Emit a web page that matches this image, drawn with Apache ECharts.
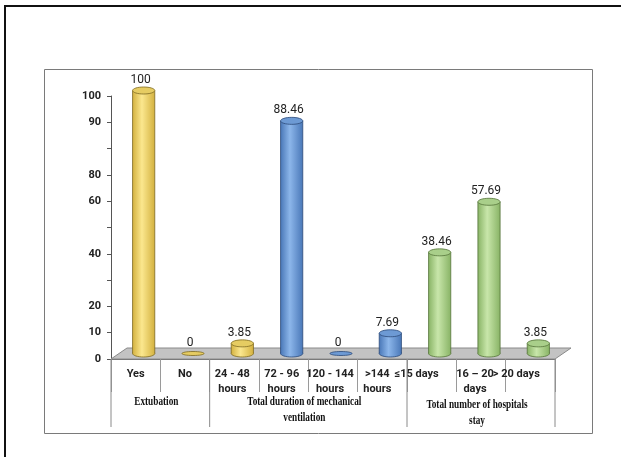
<!DOCTYPE html>
<html>
<head>
<meta charset="utf-8">
<script src="https://cdn.jsdelivr.net/npm/echarts@6/dist/echarts.min.js"></script>
<style>
  html, body { margin: 0; padding: 0; background: #fff; }
  #chart { width: 621px; height: 457px; }
</style>
</head>
<body>
<div id="chart"></div>
<script>
// Outcome categories along the x axis
const categories = ['Yes', 'No', '24 - 48\nhours', '72 - 96\nhours', '120 - 144\nhours',
  '>144\nhours', '≤15 days', '16 – 20\ndays', '> 20 days'];
// Percentage of patients in each category
const percentages = [100, 0, 3.85, 88.46, 0, 7.69, 38.46, 57.69, 3.85];
// Colour family of each cylinder (0 yellow, 1 blue, 2 green)
const barColour = [0, 0, 0, 1, 1, 1, 2, 2, 2];
// Category groups (first and last category index of each)
const groupNames = ['Extubation', 'Total duration of mechanical\nventilation', 'Total number of hospitals\nstay'];
const groupStart = [0, 2, 6];
const groupEnd = [1, 5, 8];
// Y axis tick labels at 0, 10, 20 ... 100
const yTickLabels = ['0', '10', '20', '', '40', '', '60', '80', '', '90', '100'];

// Cylinder palettes: [edge, highlight, top, outline]
const palettes = [
  ['#d4b240', '#fbe78e', '#e6cc62', '#7d6a22'],
  ['#4a78b8', '#8cb6ea', '#6d9ad4', '#2c4a78'],
  ['#89b466', '#c8e6aa', '#a9cf8a', '#55743a']
];
const labelShift = [0, 0, -2, -2, -3, -5, -15, -6, -14];

const SANS = "Roboto, 'Liberation Sans', sans-serif";
const SERIF = "'Liberation Serif', 'DejaVu Serif', serif";
const DEPTH_X = 16, DEPTH_Y = -11;

const rich = {};
categories.forEach((c, i) => {
  rich['s' + i] = {
    fontFamily: SANS, fontWeight: 'bold', fontSize: 11, lineHeight: 15, color: '#222',
    padding: [0, Math.max(0, -labelShift[i] * 2), 0, 0]
  };
});

const chart = echarts.init(document.getElementById('chart'), null, { renderer: 'canvas' });

chart.setOption({
  animation: false,
  backgroundColor: '#fff',
  grid: { left: 111, right: 66, top: 96, bottom: 98, containLabel: false },
  graphic: [
    { type: 'polyline', silent: true, z: 100,
      shape: { points: [[5, 457], [5, 6], [621, 6]] },
      style: { stroke: '#111', lineWidth: 2, fill: null } },
    { type: 'rect', silent: true, z: 100,
      shape: { x: 44.5, y: 69.5, width: 548, height: 364 },
      style: { stroke: '#7a7a7a', lineWidth: 1, fill: null } }
  ],
  xAxis: {
    type: 'category',
    data: categories,
    axisLine: { show: true, lineStyle: { color: '#6a6a6a', width: 1 } },
    axisTick: { show: true, interval: 0, length: 33, lineStyle: { color: '#9a9a9a' } },
    axisLabel: {
      interval: 0, margin: 8,
      formatter: (v, i) => v.split('\n').map(l => '{s' + i + '|' + l + '}').join('\n'),
      rich: rich
    },
    splitLine: { show: false }
  },
  yAxis: {
    type: 'value', min: 0, max: 100, interval: 10,
    axisLine: { show: true, lineStyle: { color: '#555', width: 1 } },
    axisTick: { show: true, length: 4, lineStyle: { color: '#555' } },
    axisLabel: {
      margin: 10, fontFamily: SANS, fontWeight: 'bold', fontSize: 11, color: '#222',
      formatter: v => yTickLabels[Math.round(v / 10)]
    },
    splitLine: { show: false }
  },
  series: [
    // Grey floor plane under the cylinders
    {
      type: 'custom', z: 1, silent: true,
      data: [[0]],
      renderItem: (params, api) => {
        const a = api.coord([0, 0]);
        const b = api.coord([categories.length - 1, 0]);
        const bw = api.size([1, 0])[0];
        const L = a[0] - bw / 2, R = b[0] + bw / 2, y = a[1];
        return {
          type: 'polygon',
          shape: { points: [[L, y], [R, y], [R + DEPTH_X, y + DEPTH_Y], [L + DEPTH_X, y + DEPTH_Y]] },
          style: { fill: '#c3c3c3', stroke: '#8a8a8a', lineWidth: 1 }
        };
      }
    },
    // Group separator lines and group titles under the axis
    {
      type: 'custom', z: 3, silent: true,
      data: groupNames.map((n, g) => [groupStart[g], groupEnd[g], g]),
      renderItem: (params, api) => {
        const s = api.value(0), e = api.value(1), g = api.value(2);
        const bw = api.size([1, 0])[0];
        const p0 = api.coord([s, 0]);
        const p1 = api.coord([e, 0]);
        const xl = p0[0] - bw / 2, xr = p1[0] + bw / 2, y = p0[1];
        const children = [
          { type: 'line', shape: { x1: xl, y1: y, x2: xl, y2: y + 68 },
            style: { stroke: '#8a8a8a', lineWidth: 1 } }
        ];
        if (g === groupNames.length - 1) {
          children.push({ type: 'line', shape: { x1: xr, y1: y, x2: xr, y2: y + 68 },
            style: { stroke: '#8a8a8a', lineWidth: 1 } });
        }
        children.push({
          type: 'text', x: (xl + xr) / 2 - 4, y: y + 35 + (g === 2 ? 3 : 0), scaleX: 0.74,
          style: {
            x: 0, y: 0, text: groupNames[g], align: 'center', verticalAlign: 'top',
            font: 'bold 12.5px ' + SERIF, lineHeight: 16, fill: '#111'
          }
        });
        return { type: 'group', children: children };
      }
    },
    // Cylinders
    {
      type: 'custom', z: 5, silent: true,
      data: percentages.map((v, i) => [i, v]),
      renderItem: (params, api) => {
        const idx = api.value(0), val = api.value(1);
        const base = api.coord([idx, 0]);
        const top = api.coord([idx, val]);
        const bw = api.size([1, 0])[0];
        const pal = palettes[barColour[idx]];
        const cx = base[0] + DEPTH_X / 2;
        const yb = base[1] + DEPTH_Y / 2;
        const yt = top[1] + DEPTH_Y / 2;
        const rx = bw * 0.225, ry = 3.5;
        const grad = new echarts.graphic.LinearGradient(0, 0, 1, 0, [
          { offset: 0, color: pal[0] },
          { offset: 0.42, color: pal[1] },
          { offset: 1, color: pal[0] }
        ]);
        const children = [];
        if (val > 0) {
          children.push({ type: 'ellipse', shape: { cx: cx, cy: yb, rx: rx, ry: ry },
            style: { fill: grad, stroke: pal[3], lineWidth: 0.8 } });
          children.push({ type: 'rect', shape: { x: cx - rx, y: yt, width: rx * 2, height: yb - yt },
            style: { fill: grad } });
          children.push({ type: 'line', shape: { x1: cx - rx, y1: yt, x2: cx - rx, y2: yb },
            style: { stroke: pal[3], lineWidth: 0.8 } });
          children.push({ type: 'line', shape: { x1: cx + rx, y1: yt, x2: cx + rx, y2: yb },
            style: { stroke: pal[3], lineWidth: 0.8 } });
          children.push({ type: 'ellipse', shape: { cx: cx, cy: yt, rx: rx, ry: ry },
            style: { fill: pal[2], stroke: pal[3], lineWidth: 0.8 } });
        } else {
          children.push({ type: 'ellipse', shape: { cx: cx, cy: yb, rx: rx, ry: 2 },
            style: { fill: pal[2], stroke: pal[3], lineWidth: 0.8 } });
        }
        children.push({
          type: 'text',
          style: {
            x: cx - 3, y: yt - ry - 1, text: String(val), align: 'center', verticalAlign: 'bottom',
            font: '12px ' + SANS, fill: '#222'
          }
        });
        return { type: 'group', children: children };
      }
    }
  ]
});
</script>
</body>
</html>
